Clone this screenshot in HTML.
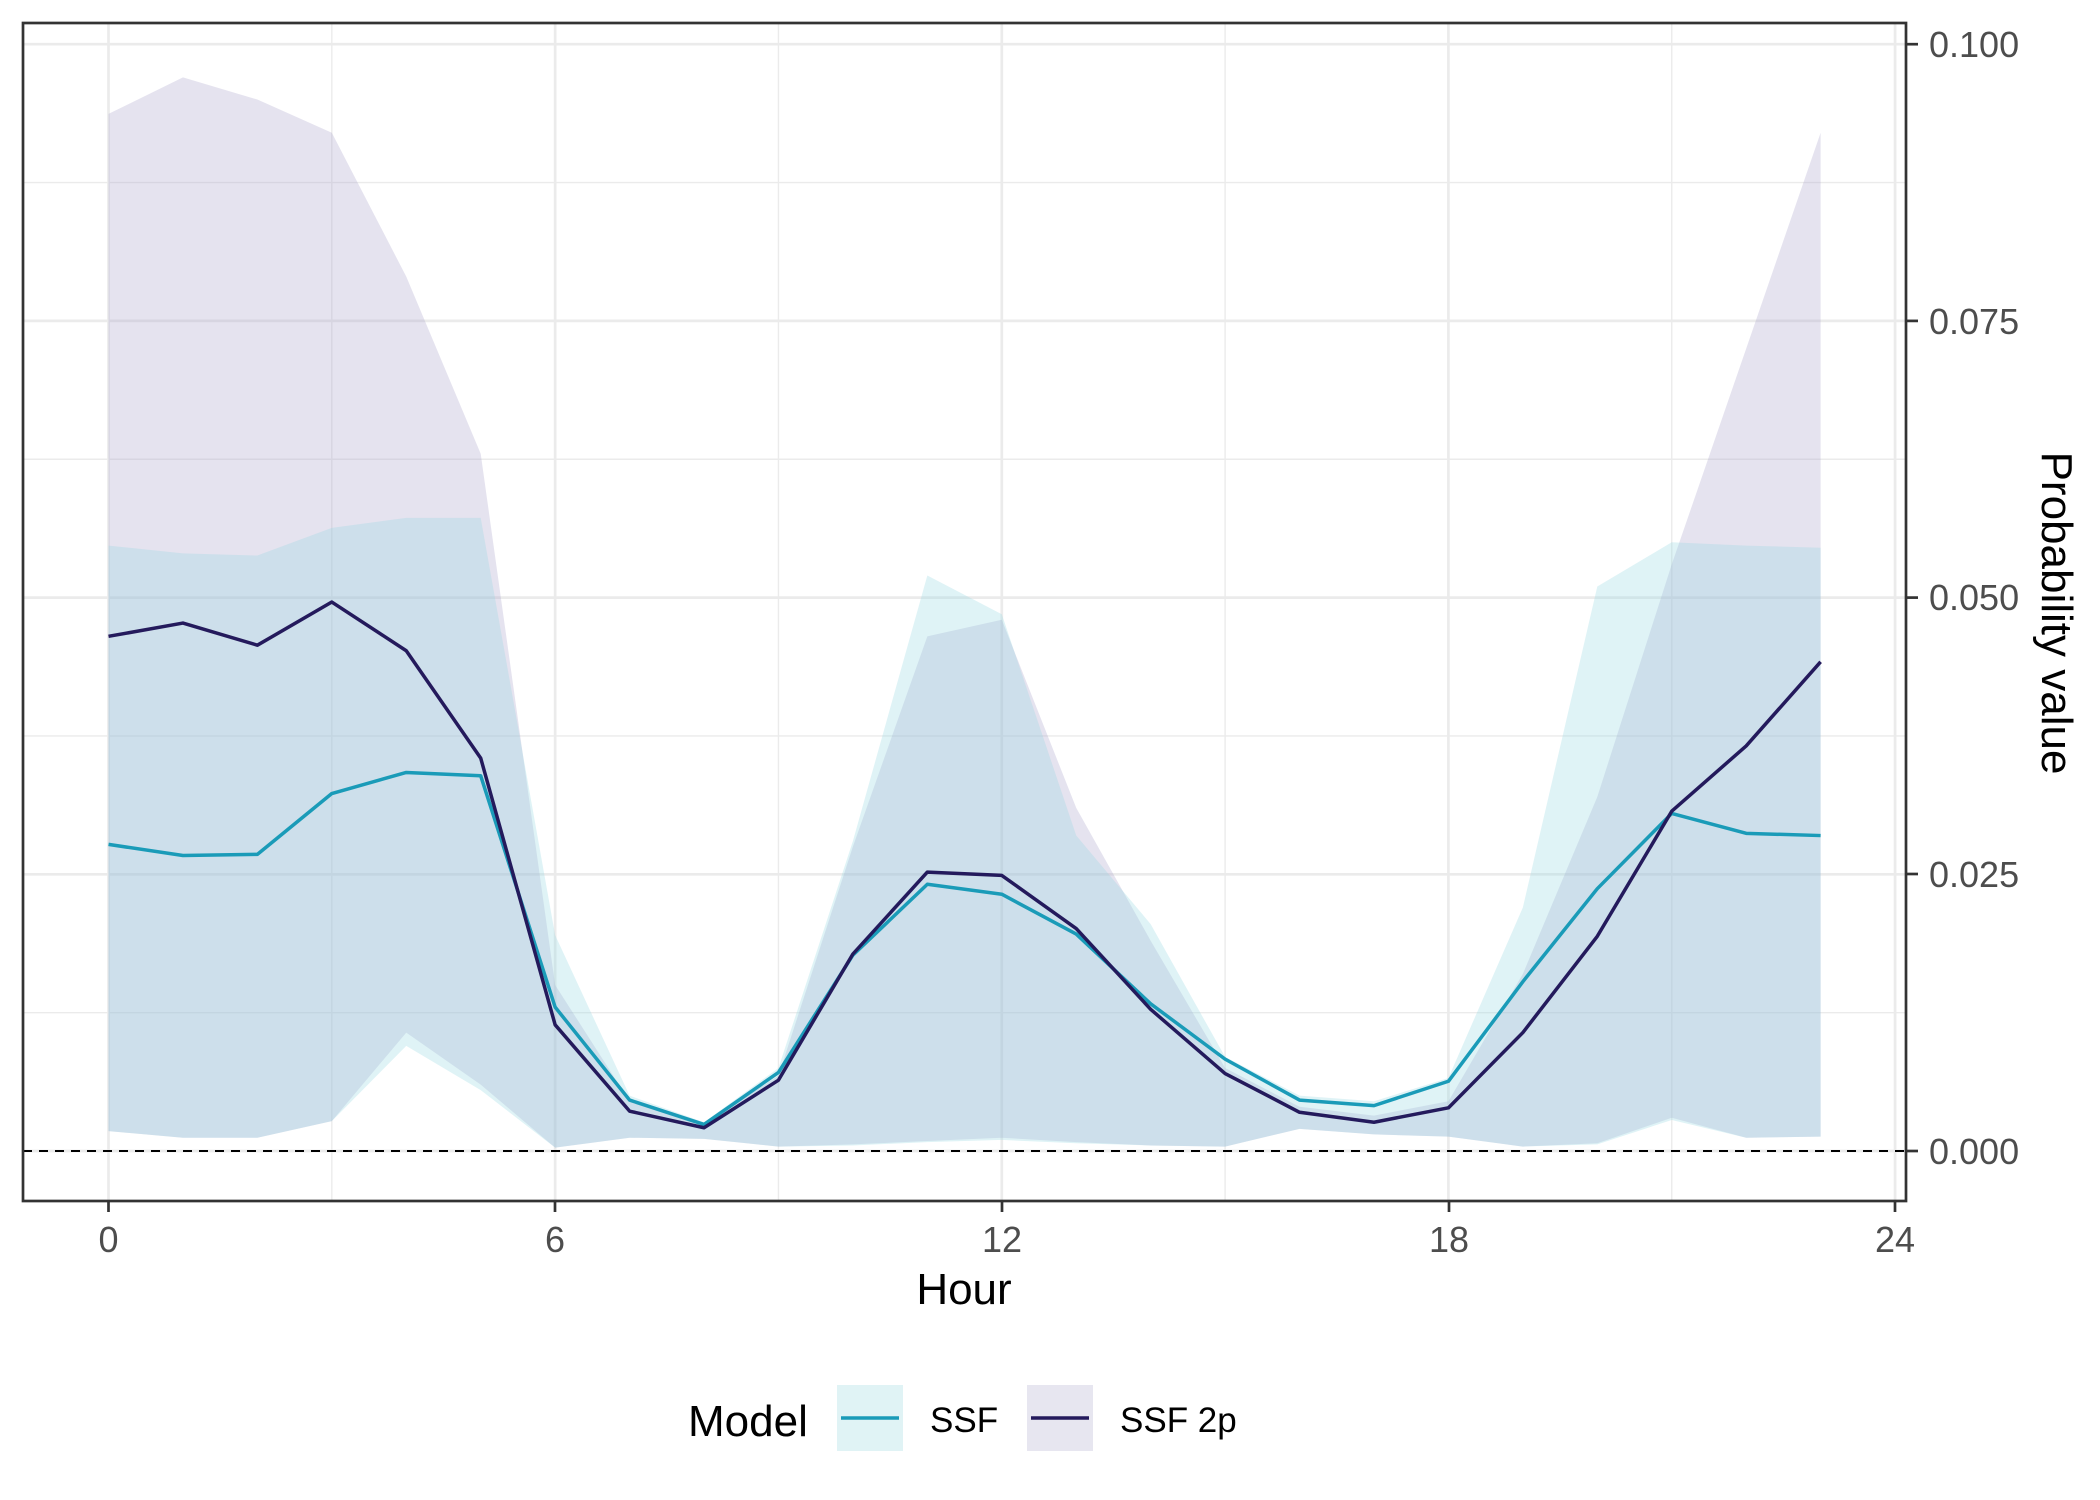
<!DOCTYPE html>
<html><head><style>html,body{margin:0;padding:0;background:#fff}svg{display:block}</style></head>
<body>
<svg width="2100" height="1500" xmlns="http://www.w3.org/2000/svg" font-family="Liberation Sans, Arial, sans-serif">
<rect width="2100" height="1500" fill="#fff"/>
<g id="grid"></g>
<g id="plot"></g>
<rect x="23" y="23" width="1883" height="1178" fill="none" stroke="#333" stroke-width="2.7"/>
<g fill="#4d4d4d" font-size="36">
<text x="108.5" y="1252" text-anchor="middle">0</text>
<text x="555" y="1252" text-anchor="middle">6</text>
<text x="1002" y="1252" text-anchor="middle">12</text>
<text x="1449" y="1252" text-anchor="middle">18</text>
<text x="1895" y="1252" text-anchor="middle">24</text>
<text x="1929" y="1164">0.000</text>
<text x="1929" y="887">0.025</text>
<text x="1929" y="610">0.050</text>
<text x="1929" y="334">0.075</text>
<text x="1929" y="57">0.100</text>
</g>
<g stroke="#333" stroke-width="2.7">
<line x1="108.5" y1="1201" x2="108.5" y2="1212"/><line x1="555" y1="1201" x2="555" y2="1212"/><line x1="1002" y1="1201" x2="1002" y2="1212"/><line x1="1449" y1="1201" x2="1449" y2="1212"/><line x1="1895" y1="1201" x2="1895" y2="1212"/>
<line x1="1906" y1="1151" x2="1918" y2="1151"/><line x1="1906" y1="874" x2="1918" y2="874"/><line x1="1906" y1="597.6" x2="1918" y2="597.6"/><line x1="1906" y1="320.9" x2="1918" y2="320.9"/><line x1="1906" y1="44.2" x2="1918" y2="44.2"/>
</g>
<text x="964" y="1304" font-size="44" text-anchor="middle">Hour</text>
<text transform="translate(2042,613) rotate(90)" font-size="44" text-anchor="middle">Probability value</text>
<text x="688" y="1436" font-size="44">Model</text>
<rect x="837" y="1385" width="66" height="66" fill="#e0f3f5"/>
<line x1="841" y1="1418" x2="899" y2="1418" stroke="#1a9bb8" stroke-width="3.5"/>
<text x="930" y="1432" font-size="35">SSF</text>
<rect x="1027" y="1385" width="66" height="66" fill="#e7e6f0"/>
<line x1="1031" y1="1418" x2="1089" y2="1418" stroke="#241a5c" stroke-width="3.5"/>
<text x="1120" y="1432" font-size="35">SSF 2p</text>
</svg>
<script>
(function(){
var NS="http://www.w3.org/2000/svg";
function X(h){return 108.5+74.44*h;}
function Y(v){return 1151-11068*v;}
var g=document.getElementById("grid"),p=document.getElementById("plot");
function ln(par,x1,y1,x2,y2,c,w,d){var e=document.createElementNS(NS,"line");e.setAttribute("x1",x1);e.setAttribute("y1",y1);e.setAttribute("x2",x2);e.setAttribute("y2",y2);e.setAttribute("stroke",c);e.setAttribute("stroke-width",w);if(d)e.setAttribute("stroke-dasharray",d);par.appendChild(e);}
for(var i=0;i<9;i++){var v=i*0.0125;ln(g,23,Y(v),1906,Y(v),"#ebebeb",i%2?1.4:2.7);}
for(var h=0;h<=24;h+=3){ln(g,X(h),23,X(h),1201,"#ebebeb",h%6?1.4:2.7);}
var ssf=[.0277,.0267,.0268,.0323,.0342,.0339,.0130,.0046,.0024,.0071,.0177,.0241,.0232,.0196,.0133,.0083,.0046,.0041,.0063,.0153,.0237,.0305,.0287,.0285];
var s2=[.0465,.0477,.0457,.0496,.0452,.0355,.0114,.0036,.0021,.0064,.0178,.0252,.0249,.0201,.0128,.0070,.0035,.0026,.0039,.0107,.0194,.0307,.0366,.0442];
var su=[.0547,.0540,.0538,.0563,.0572,.0572,.0195,.0050,.0026,.0075,.0280,.0520,.0485,.0285,.0205,.0085,.0050,.0045,.0066,.0220,.0510,.0550,.0547,.0545];
var sl=[.0018,.0012,.0012,.0027,.0095,.0055,.0003,.0012,.0011,.0004,.0005,.0008,.0010,.0007,.0005,.0004,.0020,.0015,.0013,.0004,.0006,.0028,.0012,.0013];
var pu=[.0937,.0970,.0950,.0920,.0790,.0630,.0150,.0045,.0025,.0068,.0275,.0465,.0480,.0310,.0190,.0075,.0040,.0032,.0045,.0160,.0320,.0530,.0725,.0920];
var pl=[.0018,.0012,.0012,.0027,.0107,.0060,.0003,.0012,.0011,.0004,.0006,.0009,.0012,.0008,.0005,.0004,.0020,.0015,.0013,.0004,.0007,.0030,.0012,.0013];
function rib(u,l,c){var pts=[];for(var i=0;i<24;i++)pts.push(X(i)+","+Y(u[i]));for(var i=23;i>=0;i--)pts.push(X(i)+","+Y(l[i]));var e=document.createElementNS(NS,"polygon");e.setAttribute("points",pts.join(" "));e.setAttribute("fill",c);e.setAttribute("fill-opacity","0.3");p.appendChild(e);}
rib(pu,pl,"#a8a3c9");rib(su,sl,"#96d6e2");
ln(p,23,1151,1906,1151,"#000",2,"9,7");
function line(a,c){var pts=[];for(var i=0;i<24;i++)pts.push(X(i)+","+Y(a[i]));var e=document.createElementNS(NS,"polyline");e.setAttribute("points",pts.join(" "));e.setAttribute("fill","none");e.setAttribute("stroke",c);e.setAttribute("stroke-width","3.5");e.setAttribute("stroke-linejoin","round");p.appendChild(e);}
line(ssf,"#1a9bb8");line(s2,"#241a5c");
})();
</script>
</body></html>
